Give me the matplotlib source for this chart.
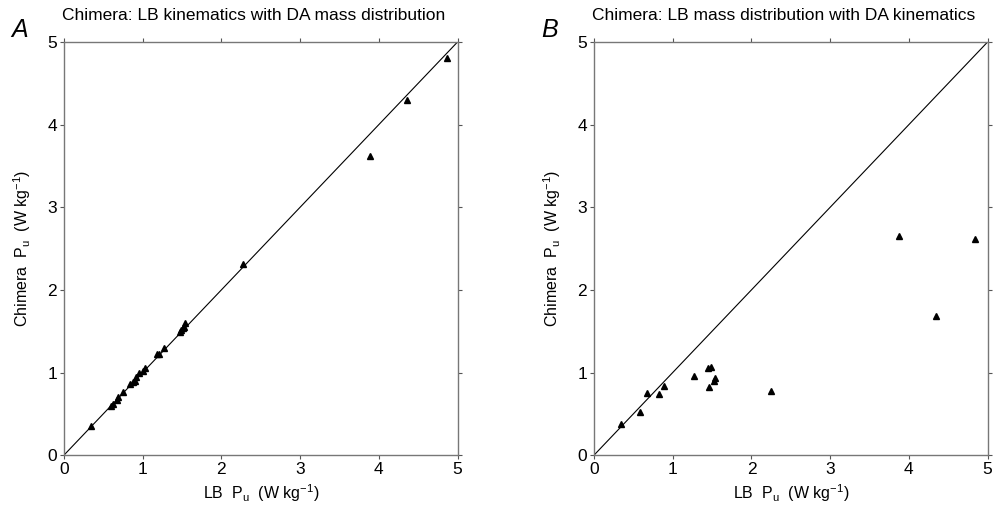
import numpy as np
import matplotlib
matplotlib.use('Agg')
import matplotlib.pyplot as plt

plt.rcParams['font.family'] = ['Liberation Sans', 'DejaVu Sans']
plt.rcParams['mathtext.fontset'] = 'custom'
plt.rcParams['mathtext.rm'] = 'Liberation Sans'
plt.rcParams['mathtext.it'] = 'Liberation Sans:italic'

# Panel A: LB kinematics with DA mass distribution
lb_a = [0.34, 0.60, 0.62, 0.67, 0.69, 0.75, 0.84, 0.88, 0.90, 0.92, 0.95, 1.00, 1.03,
        1.18, 1.21, 1.27, 1.47, 1.49, 1.51, 1.53, 1.54, 2.27, 3.89, 4.36, 4.86]
chim_a = [0.35, 0.59, 0.62, 0.67, 0.70, 0.77, 0.86, 0.88, 0.90, 0.94, 0.99, 1.02, 1.05,
          1.22, 1.23, 1.30, 1.49, 1.51, 1.54, 1.55, 1.60, 2.31, 3.62, 4.30, 4.81]

# Panel B: LB mass distribution with DA kinematics
lb_b = [0.34, 0.58, 0.67, 0.83, 0.89, 1.27, 1.45, 1.48, 1.46, 1.52, 1.54, 2.25, 3.88, 4.34, 4.84]
chim_b = [0.38, 0.52, 0.75, 0.74, 0.84, 0.96, 1.05, 1.07, 0.83, 0.90, 0.93, 0.78, 2.65, 1.69, 2.61]

titles = ['Chimera: LB kinematics with DA mass distribution',
          'Chimera: LB mass distribution with DA kinematics']
letters = ['A', 'B']
ticks = [0, 1, 2, 3, 4, 5]

fig = plt.figure(figsize=(9.99, 5.12), dpi=100)
ax_a = fig.add_axes([0.064, 0.111, 0.394, 0.807])
ax_b = fig.add_axes([0.5946, 0.111, 0.394, 0.807])

for ax, xs, ys, title, letter in zip([ax_a, ax_b], [lb_a, lb_b], [chim_a, chim_b], titles, letters):
    ax.plot([0, 5], [0, 5], color='black', lw=0.8)
    ax.plot(xs, ys, linestyle='none', marker='^', color='black', markersize=5)
    ax.set_xlim(0, 5)
    ax.set_ylim(0, 5)
    ax.set_xticks(ticks)
    ax.set_yticks(ticks)
    ax.tick_params(axis='both', labelsize=12.5, direction='out', length=3, width=0.8, color='#555555', pad=2)
    ax.tick_params(top=True, right=True, labeltop=False, labelright=False)
    for s in ax.spines.values():
        s.set_color('#777777')
        s.set_linewidth(1.0)
    ax.set_xlabel(r'LB  P$_\mathregular{u}$  (W kg$^\mathregular{-1}$)', fontsize=11.5, labelpad=4)
    ax.set_ylabel(r'Chimera  P$_\mathregular{u}$  (W kg$^\mathregular{-1}$)', fontsize=11.5, labelpad=10)
    ax.text(-0.005, 1.045, title, transform=ax.transAxes, fontsize=12.5, ha='left', va='bottom')
    ax.text(-0.135, 1.0, letter, transform=ax.transAxes, fontsize=18, style='italic', ha='left', va='bottom')

fig.savefig('out.png', dpi=100)
